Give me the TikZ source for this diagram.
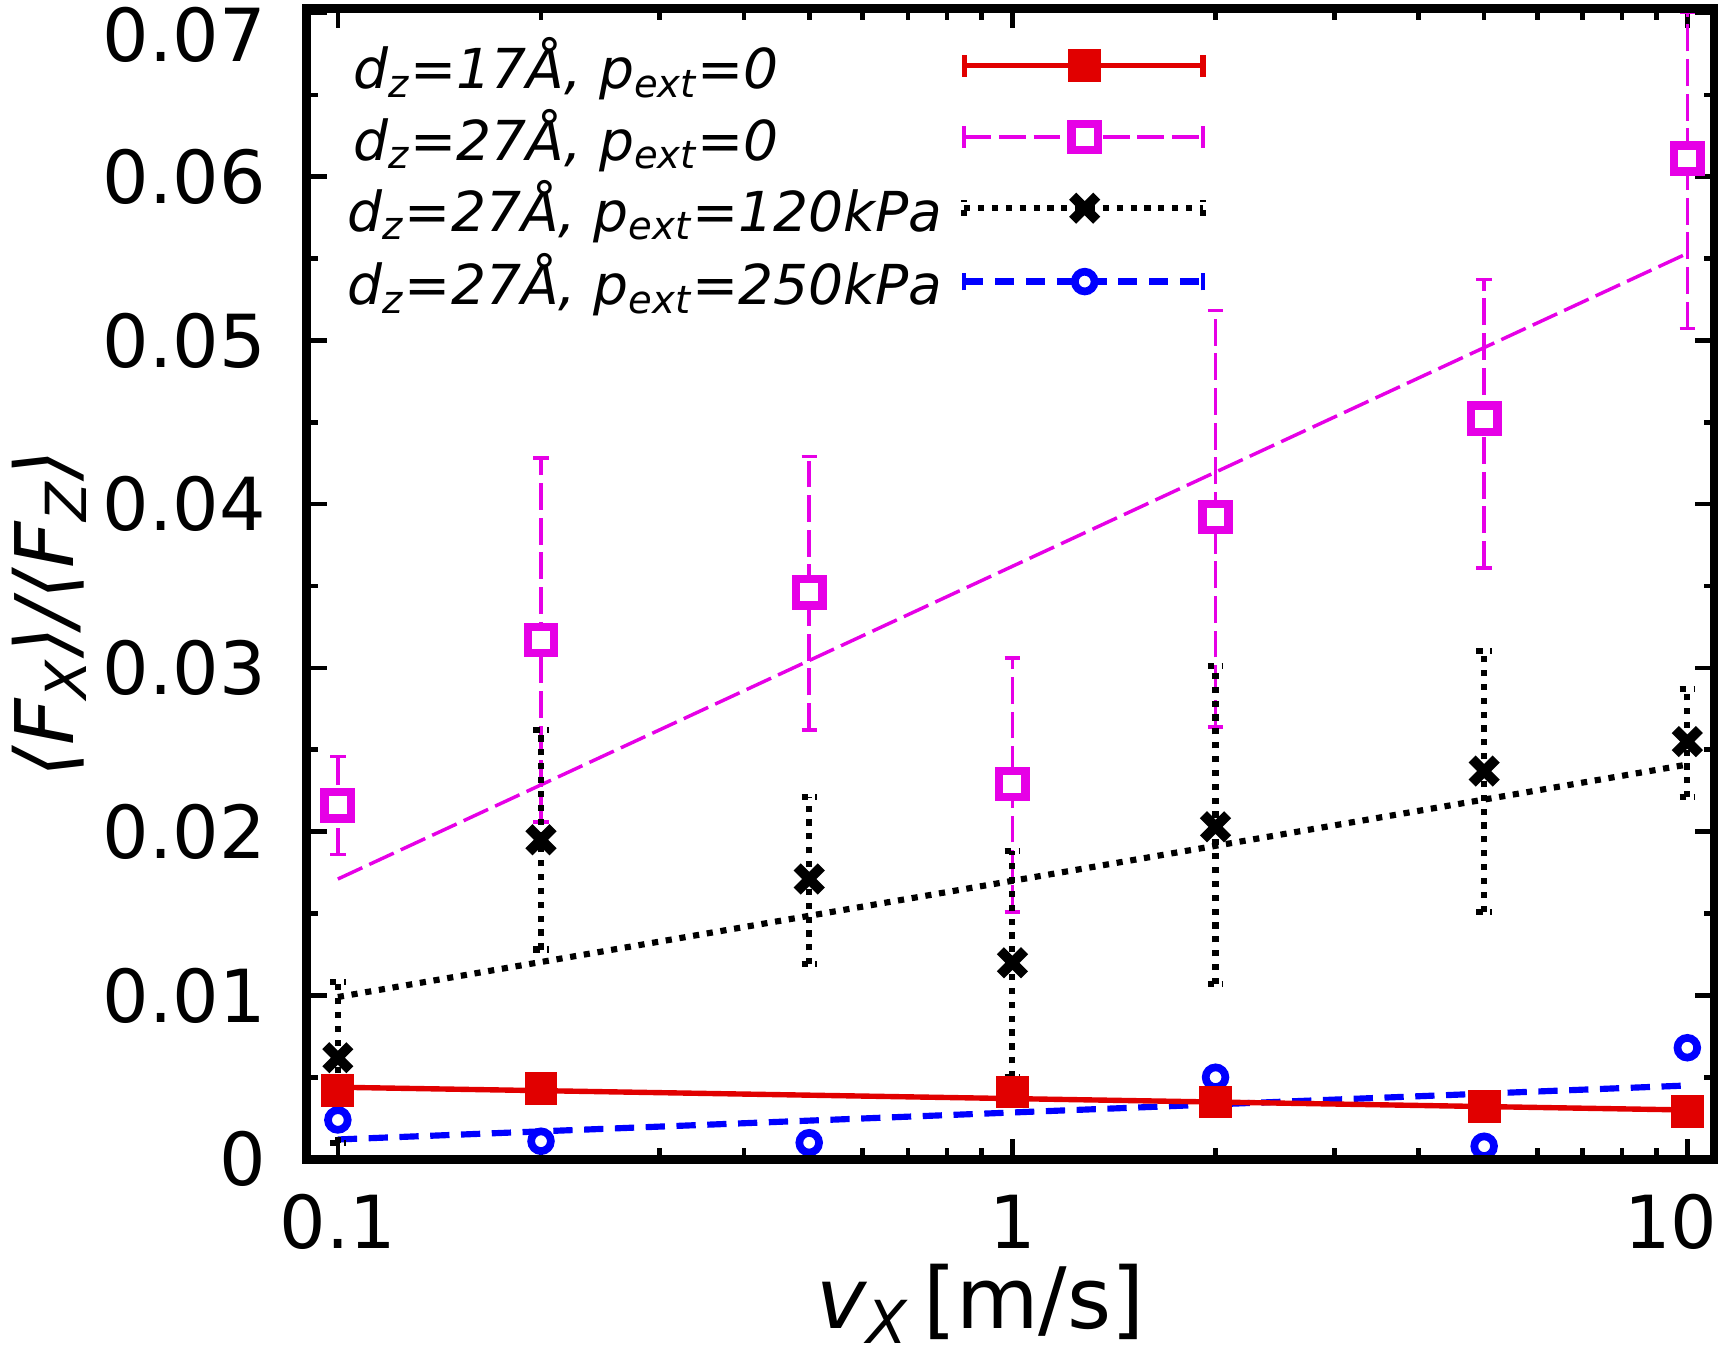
\documentclass[tikz,border=0pt]{standalone}
\usepackage{fontspec}
\setmainfont{DejaVu Sans}
\definecolor{magcol}{RGB}{230,0,230}
\definecolor{redcol}{RGB}{225,0,0}
\tikzset{
  declare function={px(\v)=3.08+6.16*(log10(\v)+1); py(\w)=1.77+149.5*\w;},
  redser/.style={draw=redcol, line width=1.4pt},
  magser/.style={draw=magcol, line width=0.9pt, dash pattern=on 7pt off 2pt},
  blkser/.style={draw=black, line width=1.6pt, dotted},
  bluser/.style={draw=blue, line width=1.6pt, dash pattern=on 5pt off 3pt},
  tick/.style={line width=1.2pt},
}
\begin{document}
\begin{tikzpicture}
\useasboundingbox (0,0) rectangle (15.68,12.35);
% ticks
\foreach \d in {0.1,1} \foreach \m in {2,...,9}
{
  \draw[tick] ({px(\d*\m)},1.77) -- ++(0,0.1);
  \draw[tick] ({px(\d*\m)},12.27) -- ++(0,-0.1);
}
\foreach \v/\t/\dx in {0.1/0.1/0,1/1/0,10/10/-0.15}
{
  \draw[tick] ({px(\v)},1.77) -- ++(0,0.18);
  \draw[tick] ({px(\v)},12.27) -- ++(0,-0.18);
  \node[font=\fontsize{19}{22}\selectfont] at ({px(\v)+\dx},1.2) {\t};
}
\foreach \w in {0,...,7}
{
  \draw[tick] (2.80,{py(\w/100)}) -- ++(0.18,0);
  \draw[tick] (15.65,{py(\w/100)}) -- ++(-0.18,0);
  \node[left, font=\fontsize{19}{22}\selectfont] at (2.55,{py(\w/100)-(\w==7)*0.2}) {\ifnum\w=0 0\else 0.0\w\fi};
}
\foreach \w in {0.005,0.015,...,0.066}
{
  \draw[tick] (2.80,{py(\w)}) -- ++(0.1,0);
  \draw[tick] (15.65,{py(\w)}) -- ++(-0.1,0);
}
\node[font=\fontsize{22}{26}\selectfont] at (8.95,0.45) {\textit{v\textsubscript{X}}\,[m/s]};
\node[rotate=90, font=\fontsize{21}{25}\selectfont] at (0.45,6.75) {\textit{⟨F\textsubscript{X}⟩/⟨F\textsubscript{Z}⟩}};

% fit lines
\draw[magser] ({px(0.1)},{py(0.0171)}) -- ({px(10)},{py(0.0553)});
\draw[blkser] ({px(0.1)},{py(0.0099)}) -- ({px(10)},{py(0.0241)});
\draw[bluser] ({px(0.1)},{py(0.0012)}) -- ({px(10)},{py(0.0045)});
\draw[redser] ({px(0.1)},{py(0.0044)}) -- ({px(10)},{py(0.0030)});

% magenta series
\foreach \v/\y/\lo/\hi in {0.1/0.0216/0.0186/0.0246, 0.2/0.0317/0.0206/0.0428, 0.5/0.0346/0.0262/0.0429,
  1/0.0229/0.0151/0.0306, 2/0.0392/0.0264/0.0518, 5/0.0452/0.0361/0.0537, 10/0.0611/0.0507/0.0700}
{
  \draw[magser] ({px(\v)},{py(\lo)}) -- ({px(\v)},{py(\hi)});
  \draw[draw=magcol, line width=0.9pt] ({px(\v)-0.07},{py(\lo)}) -- ++(0.14,0) ({px(\v)-0.07},{py(\hi)}) -- ++(0.14,0);
  \draw[draw=magcol, line width=2.2pt, fill=white] ({px(\v)-0.12},{py(\y)-0.12}) rectangle ++(0.24,0.24);
}
% black series
\foreach \v/\y/\lo/\hi in {0.1/0.0062/0.0010/0.0108, 0.2/0.0195/0.0128/0.0262, 0.5/0.0171/0.0119/0.0221,
  1/0.0120/0.0050/0.0188, 2/0.0203/0.0107/0.0301, 5/0.0237/0.0151/0.0310, 10/0.0255/0.0221/0.0287}
{
  \draw[blkser] ({px(\v)},{py(\lo)}) -- ({px(\v)},{py(\hi)});
  \draw[line width=1.6pt, dotted] ({px(\v)-0.07},{py(\lo)}) -- ++(0.14,0) ({px(\v)-0.07},{py(\hi)}) -- ++(0.14,0);
  \draw[line width=2.6pt] ({px(\v)-0.11},{py(\y)-0.11}) -- ++(0.22,0.22) ({px(\v)-0.11},{py(\y)+0.11}) -- ++(0.22,-0.22);
}
% blue series
\foreach \v/\y in {0.1/0.0024, 0.2/0.0011, 0.5/0.0010, 2/0.0050, 5/0.0008, 10/0.0068}
  \draw[draw=blue, line width=2pt, fill=white] ({px(\v)},{py(\y)}) circle (0.09);
% red series
\foreach \v/\y in {0.1/0.0042, 0.2/0.0043, 1/0.0041, 2/0.0035, 5/0.0032, 10/0.0029}
  \fill[redcol] ({px(\v)-0.15},{py(\y)-0.15}) rectangle ++(0.3,0.3);

% legend
\foreach \yy/\st in {11.75/redser, 11.10/magser, 10.45/blkser, 9.78/bluser}
  \draw[\st] (8.80,\yy) -- (10.98,\yy);
\draw[redser] (8.80,11.65) -- ++(0,0.2) (10.98,11.65) -- ++(0,0.2);
\fill[redcol] (9.75,11.60) rectangle ++(0.3,0.3);
\draw[draw=magcol, line width=0.9pt] (8.80,11.0) -- ++(0,0.2) (10.98,11.0) -- ++(0,0.2);
\draw[draw=magcol, line width=2.2pt, fill=white] (9.78,10.98) rectangle ++(0.24,0.24);
\draw[line width=1.6pt, dotted] (8.80,10.38) -- ++(0,0.14) (10.98,10.38) -- ++(0,0.14);
\draw[line width=2.6pt] (9.79,10.34) -- ++(0.22,0.22) (9.79,10.56) -- ++(0.22,-0.22);
\draw[draw=blue, line width=0.9pt] (8.80,9.70) -- ++(0,0.16) (10.98,9.70) -- ++(0,0.16);
\draw[draw=blue, line width=2pt, fill=white] (9.90,9.78) circle (0.09);
\begin{scope}[every node/.style={right, font=\fontsize{14.3}{17}\selectfont\itshape}]
\node at (3.10,11.72) {d\textsubscript{z}=17Å, p\textsubscript{ext}=0};
\node at (3.10,11.07) {d\textsubscript{z}=27Å, p\textsubscript{ext}=0};
\node at (3.05,10.42) {d\textsubscript{z}=27Å, p\textsubscript{ext}=120kPa};
\node at (3.05,9.75) {d\textsubscript{z}=27Å, p\textsubscript{ext}=250kPa};
\end{scope}
% frame
\draw[line width=2.4pt] (2.80,1.77) rectangle (15.65,12.27);
\end{tikzpicture}
\end{document}
